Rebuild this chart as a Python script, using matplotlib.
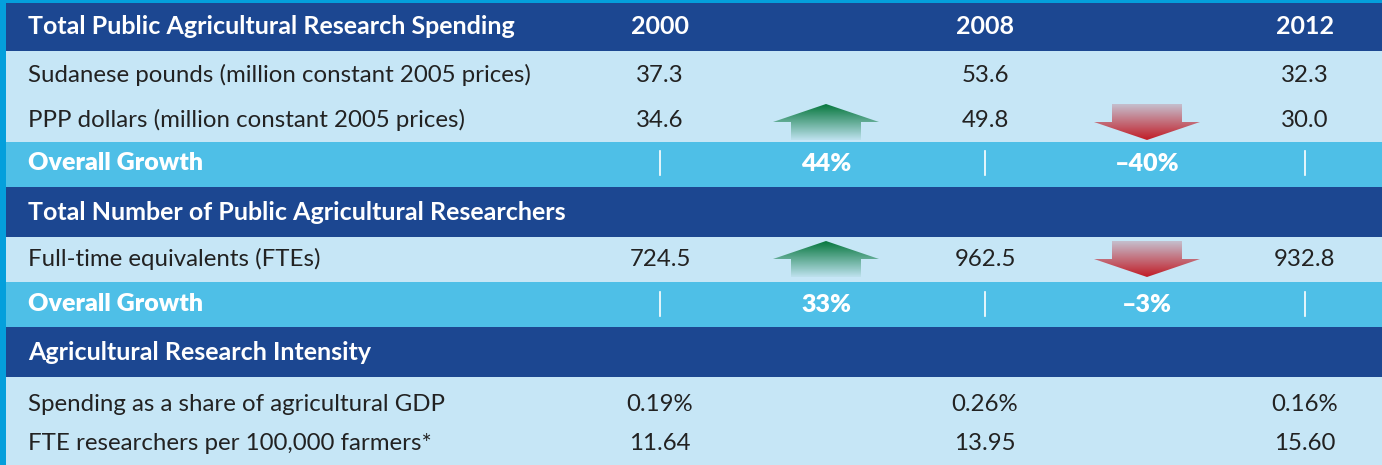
import numpy as np
import matplotlib.pyplot as plt
from matplotlib.patches import Polygon, Rectangle

# table values
years = ['2000', '2008', '2012']
sdg_pounds = [37.3, 53.6, 32.3]
ppp_dollars = [34.6, 49.8, 30.0]
spend_growth = ['44%', '–40%']
fte = [724.5, 962.5, 932.8]
fte_growth = ['33%', '–3%']
gdp_share = [0.19, 0.26, 0.16]
fte_per_farmers = [11.64, 13.95, 15.60]

DARK = '#1c4791'
LIGHT = '#c6e6f6'
MID = '#4ebfe7'
EDGE = '#049fdc'
FONT = 'Lato'

W, H = 1382, 465
fig = plt.figure(figsize=(W / 100, H / 100), dpi=100)
ax = fig.add_axes([0, 0, 1, 1])
ax.set_xlim(0, W)
ax.set_ylim(H, 0)
ax.axis('off')

col_x = [660, 985, 1305]
arrow_x = [826, 1147]

# bands: (top, bottom, colour)
bands = [(0, 51, DARK), (51, 142, LIGHT), (142, 187, MID),
         (187, 237, DARK), (237, 282, LIGHT), (282, 327, MID),
         (327, 377, DARK), (377, H, LIGHT)]
for y0, y1, c in bands:
    ax.add_patch(Rectangle((0, y0), W, y1 - y0, color=c, lw=0))
ax.add_patch(Rectangle((0, 0), W, 3, color=EDGE, lw=0))
ax.add_patch(Rectangle((0, 0), 6, H, color=EDGE, lw=0))

body = dict(fontsize=17.3, family=FONT, color='#222222', va='center')
head = dict(fontsize=18, family=FONT, color='white', fontweight='bold', va='center')
grow = dict(fontsize=18, family=FONT, color='white', fontweight='heavy', va='center')


def header(y, label, show_years=False):
    ax.text(28, y, label, ha='left', **head)
    if show_years:
        for x, yr in zip(col_x, years):
            ax.text(x, y, yr, ha='center', **head)


def value_row(y, label, vals, fmt):
    ax.text(28, y, label, ha='left', **body)
    for x, v in zip(col_x, vals):
        ax.text(x, y, fmt.format(v), ha='center', **body)


def growth_row(y, labels):
    ax.text(28, y, 'Overall Growth', ha='left', **grow)
    for x in col_x:
        ax.plot([x, x], [y - 12, y + 12], color='white', lw=1.2)
    for x, lab in zip(arrow_x, labels):
        ax.text(x, y + 1, lab, ha='center', **grow)


def arrow(xc, yc, up):
    hw, sw, hh, total = 53, 35, 18, 36
    top, bot = yc - total / 2, yc + total / 2
    if up:
        pts = [(xc, top), (xc + hw, top + hh), (xc + sw, top + hh), (xc + sw, bot),
               (xc - sw, bot), (xc - sw, top + hh), (xc - hw, top + hh)]
        rgb = (0.03, 0.47, 0.24)
        alpha = np.linspace(1.0, 0.05, 64)
    else:
        pts = [(xc, bot), (xc + hw, bot - hh), (xc + sw, bot - hh), (xc + sw, top),
               (xc - sw, top), (xc - sw, bot - hh), (xc - hw, bot - hh)]
        rgb = (0.76, 0.11, 0.15)
        alpha = np.linspace(0.2, 1.0, 64)
    grad = np.zeros((64, 1, 4))
    grad[:, 0, :3] = rgb
    grad[:, 0, 3] = alpha
    poly = Polygon(pts, closed=True, fc='none', ec='none')
    ax.add_patch(poly)
    im = ax.imshow(grad, extent=(xc - hw, xc + hw, bot, top), origin='upper',
                   aspect='auto', interpolation='bilinear', zorder=3)
    im.set_clip_path(poly)


def growth_arrows(y, labels):
    for x, lab in zip(arrow_x, labels):
        arrow(x, y, not lab.startswith('–'))


header(27, 'Total Public Agricultural Research Spending', show_years=True)
value_row(75, 'Sudanese pounds (million constant 2005 prices)', sdg_pounds, '{:.1f}')
value_row(120, 'PPP dollars (million constant 2005 prices)', ppp_dollars, '{:.1f}')
growth_arrows(122, spend_growth)
growth_row(163, spend_growth)

header(212, 'Total Number of Public Agricultural Researchers')
value_row(259, 'Full-time equivalents (FTEs)', fte, '{:.1f}')
growth_arrows(259, fte_growth)
growth_row(304, fte_growth)

header(352, 'Agricultural Research Intensity')
value_row(404, 'Spending as a share of agricultural GDP', gdp_share, '{:.2f}%')
value_row(443, 'FTE researchers per 100,000 farmers*', fte_per_farmers, '{:.2f}')

fig.savefig('out.png', dpi=100)
